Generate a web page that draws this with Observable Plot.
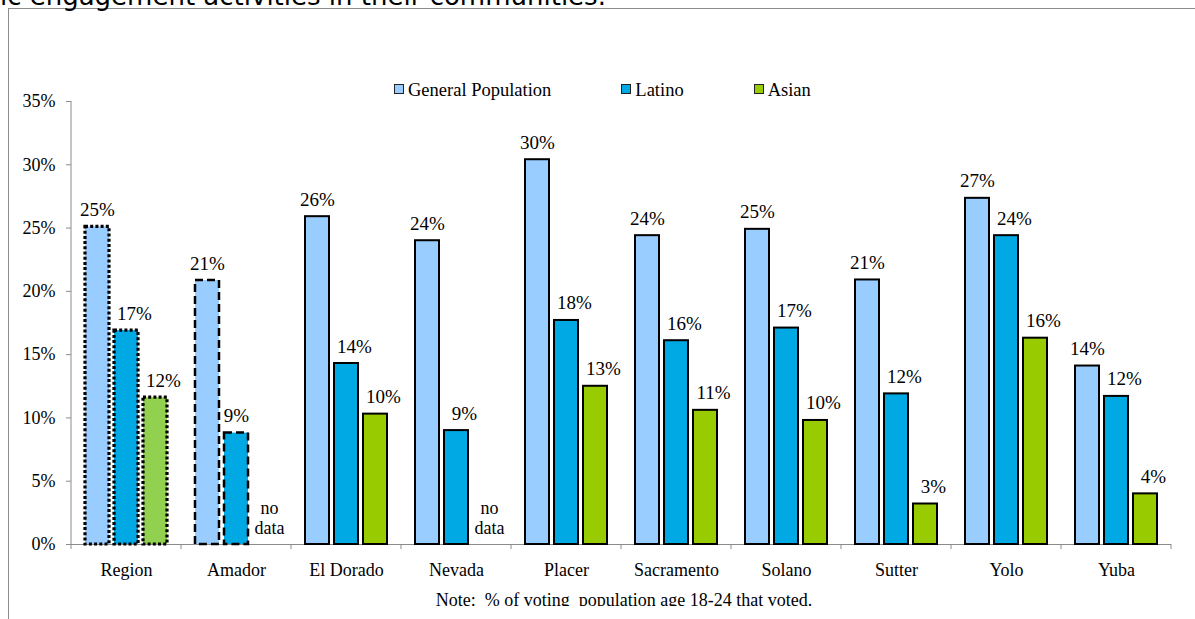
<!DOCTYPE html>
<html>
<head>
<meta charset="utf-8">
<script src="https://cdn.jsdelivr.net/npm/d3@7"></script>
<script src="https://cdn.jsdelivr.net/npm/@observablehq/plot@0.6"></script>
<style>
  html, body { margin: 0; padding: 0; background: #fff; }
  #chart { position: relative; width: 1195px; height: 619px; overflow: hidden; font-family: "Liberation Serif", "Times New Roman", serif; color: #000; }
  #heading { position: absolute; left: -37px; top: -17px; font-family: "DejaVu Sans", sans-serif; font-size: 26px; line-height: 26px; white-space: nowrap; }
  #border { position: absolute; left: 8px; top: 8px; width: 1400px; height: 900px; border: 1px solid #8c8c8c; box-sizing: border-box; }
  #plot { position: absolute; left: 0; top: 0; }
  #legend { position: absolute; left: 394px; top: 81px; display: flex; gap: 70px; font-size: 18.5px; line-height: 18px; }
  #legend .item { display: flex; align-items: flex-start; white-space: nowrap; }
  #legend .swatch { width: 10px; height: 10px; border: 1px solid #222; box-sizing: border-box; margin: 3px 4px 0 0; }
  #note { position: absolute; left: 0; width: 1248px; top: 591px; height: 15px; overflow: hidden; text-align: center; font-size: 18px; line-height: 18px; white-space: pre; }
  #plot svg text { font-family: "Liberation Serif", "Times New Roman", serif; font-variant: normal; }
</style>
</head>
<body>
<div id="chart">
  <div id="border"></div>
  <div id="heading">civic engagement activities in their communities.</div>
  <div id="plot"></div>
  <div id="legend"></div>
  <div id="note">Note:  % of voting  population age 18-24 that voted.</div>
</div>
<script>
// Share of the 18-24 voting population that voted, by county and group (percent)
const counties = ["Region", "Amador", "El Dorado", "Nevada", "Placer", "Sacramento", "Solano", "Sutter", "Yolo", "Yuba"];
const series = ["General Population", "Latino", "Asian"];
const generalPopulation = [25.1, 20.85, 25.9, 24.0, 30.4, 24.4, 24.9, 20.9, 27.35, 14.1];
const latino = [16.9, 8.8, 14.3, 9.0, 17.7, 16.1, 17.1, 11.9, 24.4, 11.7];
const asian = [11.6, null, 10.3, null, 12.5, 10.6, 9.8, 3.2, 16.3, 4.0];
const seriesColors = ["#99CCFF", "#00A8E4", "#99CC00"];
const regionAsianColor = "#92D050";
const yTicks = [0, 5, 10, 15, 20, 25, 30, 35];
const missingLabel = "no\ndata";

const values = [generalPopulation, latino, asian];
const rows = counties.flatMap((county, i) =>
  series.map((s, j) => ({county, series: s, value: values[j][i]}))
);

const fillOf = d => (d.county === "Region" && d.series === "Asian")
  ? regionAsianColor
  : seriesColors[series.indexOf(d.series)];
const pct = d => `${Math.round(d.value)}%`;
const hasValue = d => d.value != null;

const serif = '"Liberation Serif", "Times New Roman", serif';

const bars = (filter, options) => Plot.barY(rows, {
  filter: d => hasValue(d) && filter(d),
  fx: "county", x: "series", y: "value",
  fill: fillOf, stroke: "#000", ...options
});

const labelOptions = {fx: "county", x: "series", lineAnchor: "bottom", dy: -11, textAnchor: "middle", fill: "#000", fontSize: 19, fontFamily: serif};

const plot = Plot.plot({
  width: 1195,
  height: 619,
  marginLeft: 69,
  marginRight: 23,
  marginTop: 101,
  marginBottom: 75,
  style: {fontFamily: serif, fontSize: "18px", color: "#000", background: "transparent", overflow: "visible"},
  fx: {domain: counties, padding: 0},
  x: {domain: series, paddingInner: 0.16, paddingOuter: 0.43, axis: null},
  y: {domain: [0, 35]},
  color: {type: "identity"},
  marks: [
    Plot.axisY({ticks: yTicks, tickSize: 5, tickPadding: 11, tickFormat: d => `${d}%`, stroke: "#8c8c8c", fill: "#000", fontFamily: serif, fontSize: 18, label: null}),
    Plot.axisFx({anchor: "bottom", tickSize: 0, tickPadding: 19, fill: "#000", fontFamily: serif, fontSize: 18, label: null}),
    Plot.ruleY([0], {stroke: "#8c8c8c"}),
    // solid outlines for the counties
    bars(d => d.county !== "Region" && d.county !== "Amador", {strokeWidth: 2}),
    // dashed outline for Amador, dotted for the region total
    bars(d => d.county === "Amador", {strokeWidth: 2.5, strokeDasharray: "8,4"}),
    bars(d => d.county === "Region", {strokeWidth: 3.2, strokeDasharray: "3,2.2"}),
    // value labels
    Plot.text(rows, {...labelOptions, filter: d => hasValue(d) && (d.series === "General Population" || d.county === "Amador"), y: "value", text: pct}),
    Plot.text(rows, {...labelOptions, filter: d => hasValue(d) && d.series !== "General Population" && d.county !== "Amador", y: "value", text: pct, dx: 8}),
    Plot.text(rows, {...labelOptions, filter: d => !hasValue(d), y: () => 0, text: () => missingLabel, lineHeight: 1.1, fontSize: 18, dx: 4})
  ]
});

// Vertical axis line and category boundary ticks along the baseline
const fx = plot.scale("fx");
const y = plot.scale("y");
const svg = d3.select(plot);
const left = fx.apply(counties[0]);
svg.append("line")
  .attr("x1", left).attr("x2", left)
  .attr("y1", y.apply(d3.max(yTicks))).attr("y2", y.apply(0))
  .attr("stroke", "#8c8c8c");
const edges = counties.map(c => fx.apply(c)).concat(fx.apply(counties[counties.length - 1]) + fx.bandwidth);
svg.append("g").selectAll("line").data(edges).join("line")
  .attr("x1", d => d).attr("x2", d => d)
  .attr("y1", y.apply(0)).attr("y2", y.apply(0) + 5)
  .attr("stroke", "#8c8c8c");

document.getElementById("plot").append(plot);

// Legend
const legend = d3.select("#legend");
series.forEach((s, i) => {
  const item = legend.append("div").attr("class", "item");
  item.append("span").attr("class", "swatch").style("background", seriesColors[i]);
  item.append("span").text(s);
});
</script>
</body>
</html>
